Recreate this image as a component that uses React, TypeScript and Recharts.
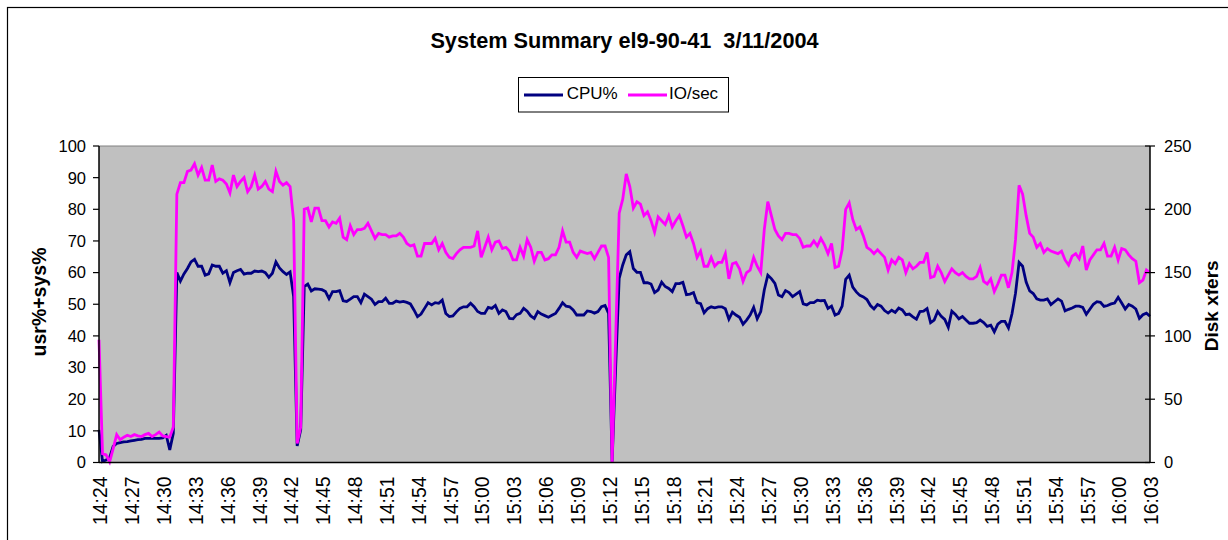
import React from 'react'
import { LineChart, Line, XAxis, YAxis, CartesianGrid, ReferenceLine } from 'recharts'

// samples every 20 seconds starting at 14:24
const startTime = '14:24:00'
const stepSeconds = 20

const cpuPct = [
  10.3, 0.3, 0.8, 1.5, 5.1, 6.0, 6.3, 6.5, 6.6, 6.8,
  7.0, 7.2, 7.3, 7.6, 7.6, 7.6, 7.6, 7.6, 7.8, 8.6,
  4.0, 9.2, 60.0, 57.3, 59.6, 61.3, 63.4, 64.2, 62.0, 62.0,
  59.2, 59.6, 62.4, 62.0, 62.0, 59.8, 60.6, 56.8, 60.0, 60.6,
  61.0, 59.5, 59.8, 59.8, 60.5, 60.3, 60.5, 60.0, 58.5, 59.8,
  63.4, 61.5, 60.3, 59.4, 60.2, 52.4, 5.2, 10.3, 55.6, 56.4,
  54.2, 54.9, 54.8, 54.6, 54.0, 51.8, 54.0, 54.0, 54.3, 51.1,
  50.9, 51.6, 52.4, 52.4, 50.5, 53.2, 52.4, 51.6, 49.9, 50.8,
  50.8, 51.9, 50.3, 50.3, 51.0, 50.7, 50.9, 50.6, 50.1, 48.2,
  46.1, 46.9, 48.7, 50.5, 49.8, 50.5, 50.3, 51.3, 47.1, 46.1,
  46.3, 47.6, 48.7, 49.2, 49.2, 50.3, 49.2, 47.7, 47.1, 47.1,
  49.0, 48.7, 49.6, 47.1, 48.2, 47.7, 45.5, 45.4, 46.7, 47.1,
  48.7, 47.8, 46.3, 45.5, 47.7, 46.9, 46.4, 45.9, 46.5, 47.1,
  48.7, 50.5, 49.4, 49.2, 48.2, 46.6, 46.6, 46.6, 47.9, 47.7,
  47.2, 47.7, 49.2, 49.6, 47.1, 0.3, 30.0, 58.2, 62.4, 65.6,
  66.6, 61.3, 60.1, 60.1, 56.8, 56.8, 56.4, 53.7, 54.5, 57.0,
  55.6, 55.0, 54.0, 56.5, 56.5, 56.9, 53.0, 53.2, 53.7, 50.5,
  50.2, 47.3, 48.6, 49.2, 48.9, 49.2, 49.2, 48.6, 45.3, 47.5,
  46.6, 45.9, 43.7, 45.0, 46.6, 49.0, 45.4, 47.7, 54.5, 59.2,
  58.1, 56.6, 52.9, 52.4, 54.3, 53.7, 52.4, 53.2, 54.0, 50.1,
  49.8, 50.5, 50.5, 51.3, 51.1, 51.2, 48.7, 49.4, 46.6, 47.1,
  49.4, 57.9, 59.2, 55.4, 53.9, 52.8, 52.3, 51.5, 49.6, 48.5,
  49.9, 49.4, 48.0, 47.2, 48.1, 47.4, 48.8, 48.2, 46.7, 46.9,
  46.0, 45.3, 47.7, 47.8, 48.6, 44.2, 45.0, 47.7, 46.2, 45.2,
  42.7, 47.8, 46.8, 45.4, 46.1, 45.0, 44.0, 44.0, 44.2, 45.0,
  44.2, 43.0, 43.4, 41.3, 43.7, 44.6, 44.6, 42.5, 47.0, 53.5,
  63.2, 62.0, 57.0, 54.2, 53.4, 51.7, 51.3, 51.3, 51.7, 49.9,
  50.8, 51.7, 51.0, 47.9, 48.4, 48.8, 49.4, 49.4, 49.0, 46.8,
  48.4, 50.0, 50.8, 50.6, 49.3, 49.6, 50.1, 50.4, 52.2, 50.4,
  48.5, 49.9, 49.4, 48.5, 45.5, 46.7, 47.2, 46.2,
]

const ioPerSec = [
  97, 7, 6, 0.5, 11, 22, 18, 20, 21.5, 20.5,
  22, 21, 20.5, 22, 23, 20.5, 22, 24, 21, 20.5,
  20, 28, 212, 221, 221, 230, 231, 236, 227, 233,
  223, 223, 235, 222, 224, 223, 220, 213, 227, 218,
  222, 225, 214, 218, 227, 216, 218, 222, 216, 214,
  230, 222, 219, 221, 218, 191, 15, 28, 200, 201,
  190, 201, 201, 191, 191, 186, 190, 189, 193, 178,
  176, 187, 180, 184, 184, 185, 189, 183, 177, 181,
  180, 180, 178, 179, 179, 181, 178, 173, 171, 172,
  163, 163, 173, 173, 173, 177, 168, 173, 166, 162,
  161, 165, 168, 170, 170, 170, 171, 183, 162, 170,
  178, 168, 174, 175, 169, 170, 167, 160, 160, 170,
  163, 176, 170, 159, 166, 166, 160, 161, 164, 164,
  170, 183, 174, 174, 166, 162, 167, 166, 165, 166,
  161, 166, 171, 171, 162, 0.5, 98, 197, 208, 228,
  218, 201, 206, 204, 195, 198, 191, 182, 194, 191,
  188, 195, 186, 191, 195, 187, 178, 181, 173, 162,
  167, 155, 155, 162, 155, 158, 158, 165, 145, 157,
  158, 153, 143, 150, 152, 162, 155, 150, 184, 206,
  195, 184, 179, 176, 181, 181, 180, 180, 177, 170,
  171, 171, 175, 171, 177, 172, 165, 173, 154, 155,
  168, 200, 205, 192, 184, 186, 179, 170, 168, 165,
  168, 165, 162, 152, 160, 157, 162, 160, 150, 157,
  153, 155, 158, 158, 166, 146, 147, 155, 150, 143,
  148, 153, 150, 148, 150, 147, 145, 145, 147, 154,
  143, 141, 145, 135, 141, 148, 148, 138, 150, 176,
  219, 212, 195, 181, 178, 170, 173, 166, 169, 167,
  166, 165, 167, 160, 156, 163, 165, 161, 171, 152,
  160, 164, 168, 168, 173, 163, 163, 170, 160, 169,
  168, 164, 161, 159, 142, 144, 152, 150,
]

const cpuTicks = [0, 10, 20, 30, 40, 50, 60, 70, 80, 90, 100]
const ioTicks = [0, 50, 100, 150, 200, 250]

const pad = (n: number) => String(n).padStart(2, '0')
const [h0, m0, s0] = startTime.split(':').map(Number)
const sampleTimes = cpuPct.map((_, i) => {
  const s = h0 * 3600 + m0 * 60 + s0 + i * stepSeconds
  return `${Math.floor(s / 3600)}:${pad(Math.floor(s / 60) % 60)}:${pad(s % 60)}`
})

const data = sampleTimes.map((t, i) => ({ t, cpu: cpuPct[i], io: ioPerSec[i] }))

const FONT = '"Liberation Sans", Arial, sans-serif'
const NAVY = '#000080'
const PINK = '#ff00ff'

const TimeTick = ({ x, y, payload }: any) => (
  <text
    x={x}
    y={y}
    dy={8.3}
    textAnchor="end"
    transform={`rotate(-90, ${x}, ${y})`}
    fontSize={19.4}
    fill="#000"
  >
    {String(payload.value).slice(0, 5)}
  </text>
)

const IoTick = ({ x, y, payload }: any) => (
  <g>
    <line x1={x - 19} x2={x - 9} y1={y} y2={y} stroke="#000" strokeWidth={1.2} />
    <text x={x} y={y} dy="0.355em" textAnchor="start" fontSize={16.5} fill="#000">
      {payload.value}
    </text>
  </g>
)

export default function App() {
  return (
    <div
      style={{
        position: 'fixed',
        left: 0,
        top: 0,
        width: 1228,
        height: 540,
        overflow: 'hidden',
        background: '#fff',
        fontFamily: FONT,
      }}
    >
      <LineChart
        width={1228}
        height={540}
        data={data}
        margin={{ top: 146, right: 0, bottom: 7.5, left: 0 }}
      >
        <CartesianGrid yAxisId="left" fill="#c0c0c0" horizontal={false} vertical={false} />
        <XAxis
          dataKey="t"
          type="category"
          scale="point"
          padding={{ left: 0, right: 0 }}
          interval={8}
          height={70}
          tickLine={false}
          tickSize={0}
          tickMargin={14}
          axisLine={{ stroke: '#000', strokeWidth: 1.5 }}
          tick={<TimeTick />}
        />
        <YAxis
          yAxisId="left"
          domain={[0, 100]}
          ticks={cpuTicks}
          width={99}
          tickSize={6}
          tickMargin={7}
          axisLine={{ stroke: '#000', strokeWidth: 1.5 }}
          tickLine={{ stroke: '#000', strokeWidth: 1.2 }}
          tick={{ fill: '#000', fontSize: 16.5 }}
        />
        <YAxis
          yAxisId="right"
          orientation="right"
          domain={[0, 250]}
          ticks={ioTicks}
          width={78}
          tickSize={5}
          tickMargin={9}
          tickLine={false}
          axisLine={{ stroke: '#000', strokeWidth: 1.5 }}
          tick={<IoTick />}
        />
        <ReferenceLine yAxisId="left" y={100} stroke="#808080" strokeWidth={1} />
        <Line
          yAxisId="left"
          dataKey="cpu"
          type="linear"
          stroke={NAVY}
          strokeWidth={2.8}
          dot={false}
          isAnimationActive={false}
        />
        <Line
          yAxisId="right"
          dataKey="io"
          type="linear"
          stroke={PINK}
          strokeWidth={2.8}
          dot={false}
          isAnimationActive={false}
        />
      </LineChart>

      <svg
        width={1228}
        height={540}
        style={{ position: 'absolute', left: 0, top: 0, pointerEvents: 'none' }}
      >
        <rect x={7.5} y={7.5} width={1240} height={560} fill="none" stroke="#000" strokeWidth={1.2} />
        <text
          x={624.5}
          y={47.7}
          textAnchor="middle"
          fontWeight="bold"
          fontSize={21.7}
          fill="#000"
          style={{ whiteSpace: 'pre' }}
        >
          {'System Summary el9-90-41  3/11/2004'}
        </text>

        <rect x={518.5} y={77.5} width={210} height={34.5} fill="#fff" stroke="#000" strokeWidth={1} />
        <line x1={524} x2={563} y1={95} y2={95} stroke={NAVY} strokeWidth={2.8} />
        <text x={566.7} y={99.3} fontSize={17} fill="#000">CPU%</text>
        <line x1={628} x2={667} y1={95} y2={95} stroke={PINK} strokeWidth={2.8} />
        <text x={669} y={99.3} fontSize={17} fill="#000">IO/sec</text>

        <text
          x={46}
          y={302}
          textAnchor="middle"
          fontWeight="bold"
          fontSize={19.5}
          fill="#000"
          transform="rotate(-90, 46, 302)"
        >
          usr%+sys%
        </text>
        <text
          x={1218}
          y={305.8}
          textAnchor="middle"
          fontWeight="bold"
          fontSize={19}
          fill="#000"
          transform="rotate(-90, 1218, 305.8)"
        >
          Disk xfers
        </text>
      </svg>
    </div>
  )
}
